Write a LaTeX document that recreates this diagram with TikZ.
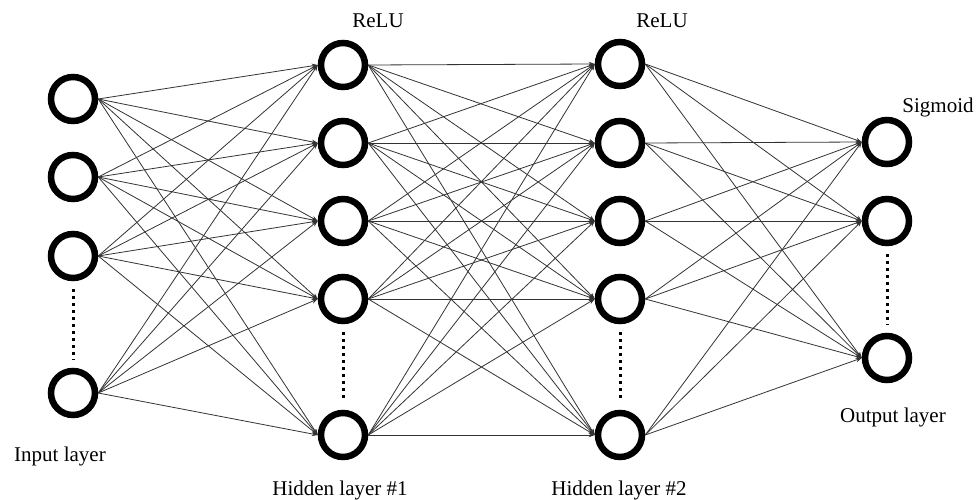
\documentclass[tikz,border=0pt]{standalone}
\usepackage{fontspec}
\setmainfont{Liberation Serif}
\usetikzlibrary{arrows.meta}
\begin{document}
\begin{tikzpicture}[x=1pt,y=-1pt,
  neuron/.style={circle,draw=black,line width=6.5pt,minimum size=44pt,inner sep=0pt,fill=white},
  conn/.style={draw=black!80,line width=0.8pt,-{Stealth[length=6pt,width=4.5pt]}},
  dotline/.style={line width=3pt,dash pattern=on 3pt off 4pt,shorten >=8pt,shorten <=8pt},
  lbl/.style={anchor=base,font=\fontsize{21}{25}\selectfont}]
\useasboundingbox (0,0) rectangle (978,500);
\foreach \y [count=\i] in {99,177,256,393} \node[neuron] (i\i) at (73,\y) {};
\foreach \y [count=\i] in {65,143,221,299,435} \node[neuron] (h\i) at (343,\y) {};
\foreach \y [count=\i] in {64,143,221,299,435} \node[neuron] (g\i) at (620,\y) {};
\foreach \y [count=\i] in {142,221,358} \node[neuron] (o\i) at (887,\y) {};
\foreach \a in {1,...,4} \foreach \b in {1,...,5} \draw[conn] (i\a.east) -- (h\b.west);
\foreach \a in {1,...,5} \foreach \b in {1,...,5} \draw[conn] (h\a.east) -- (g\b.west);
\foreach \a in {1,...,5} \foreach \b in {1,...,3} \draw[conn] (g\a.east) -- (o\b.west);
\draw[dotline] (i3.south) -- (i4.north);
\draw[dotline] (h4.south) -- (h5.north);
\draw[dotline] (g4.south) -- (g5.north);
\draw[dotline] (o2.south) -- (o3.north);
\node[lbl] (relu1) at (378,28) {ReLU};
\node[lbl] (relu2) at (662,28) {ReLU};
\node[lbl] (sig) at (938,113) {Sigmoid};
\node[lbl] (inl) at (60,461) {Input layer};
\node[lbl] (hl1) at (340,495) {Hidden layer \#1};
\node[lbl] (hl2) at (619,495) {Hidden layer \#2};
\node[lbl] (outl) at (893,422) {Output layer};
\end{tikzpicture}
\end{document}
